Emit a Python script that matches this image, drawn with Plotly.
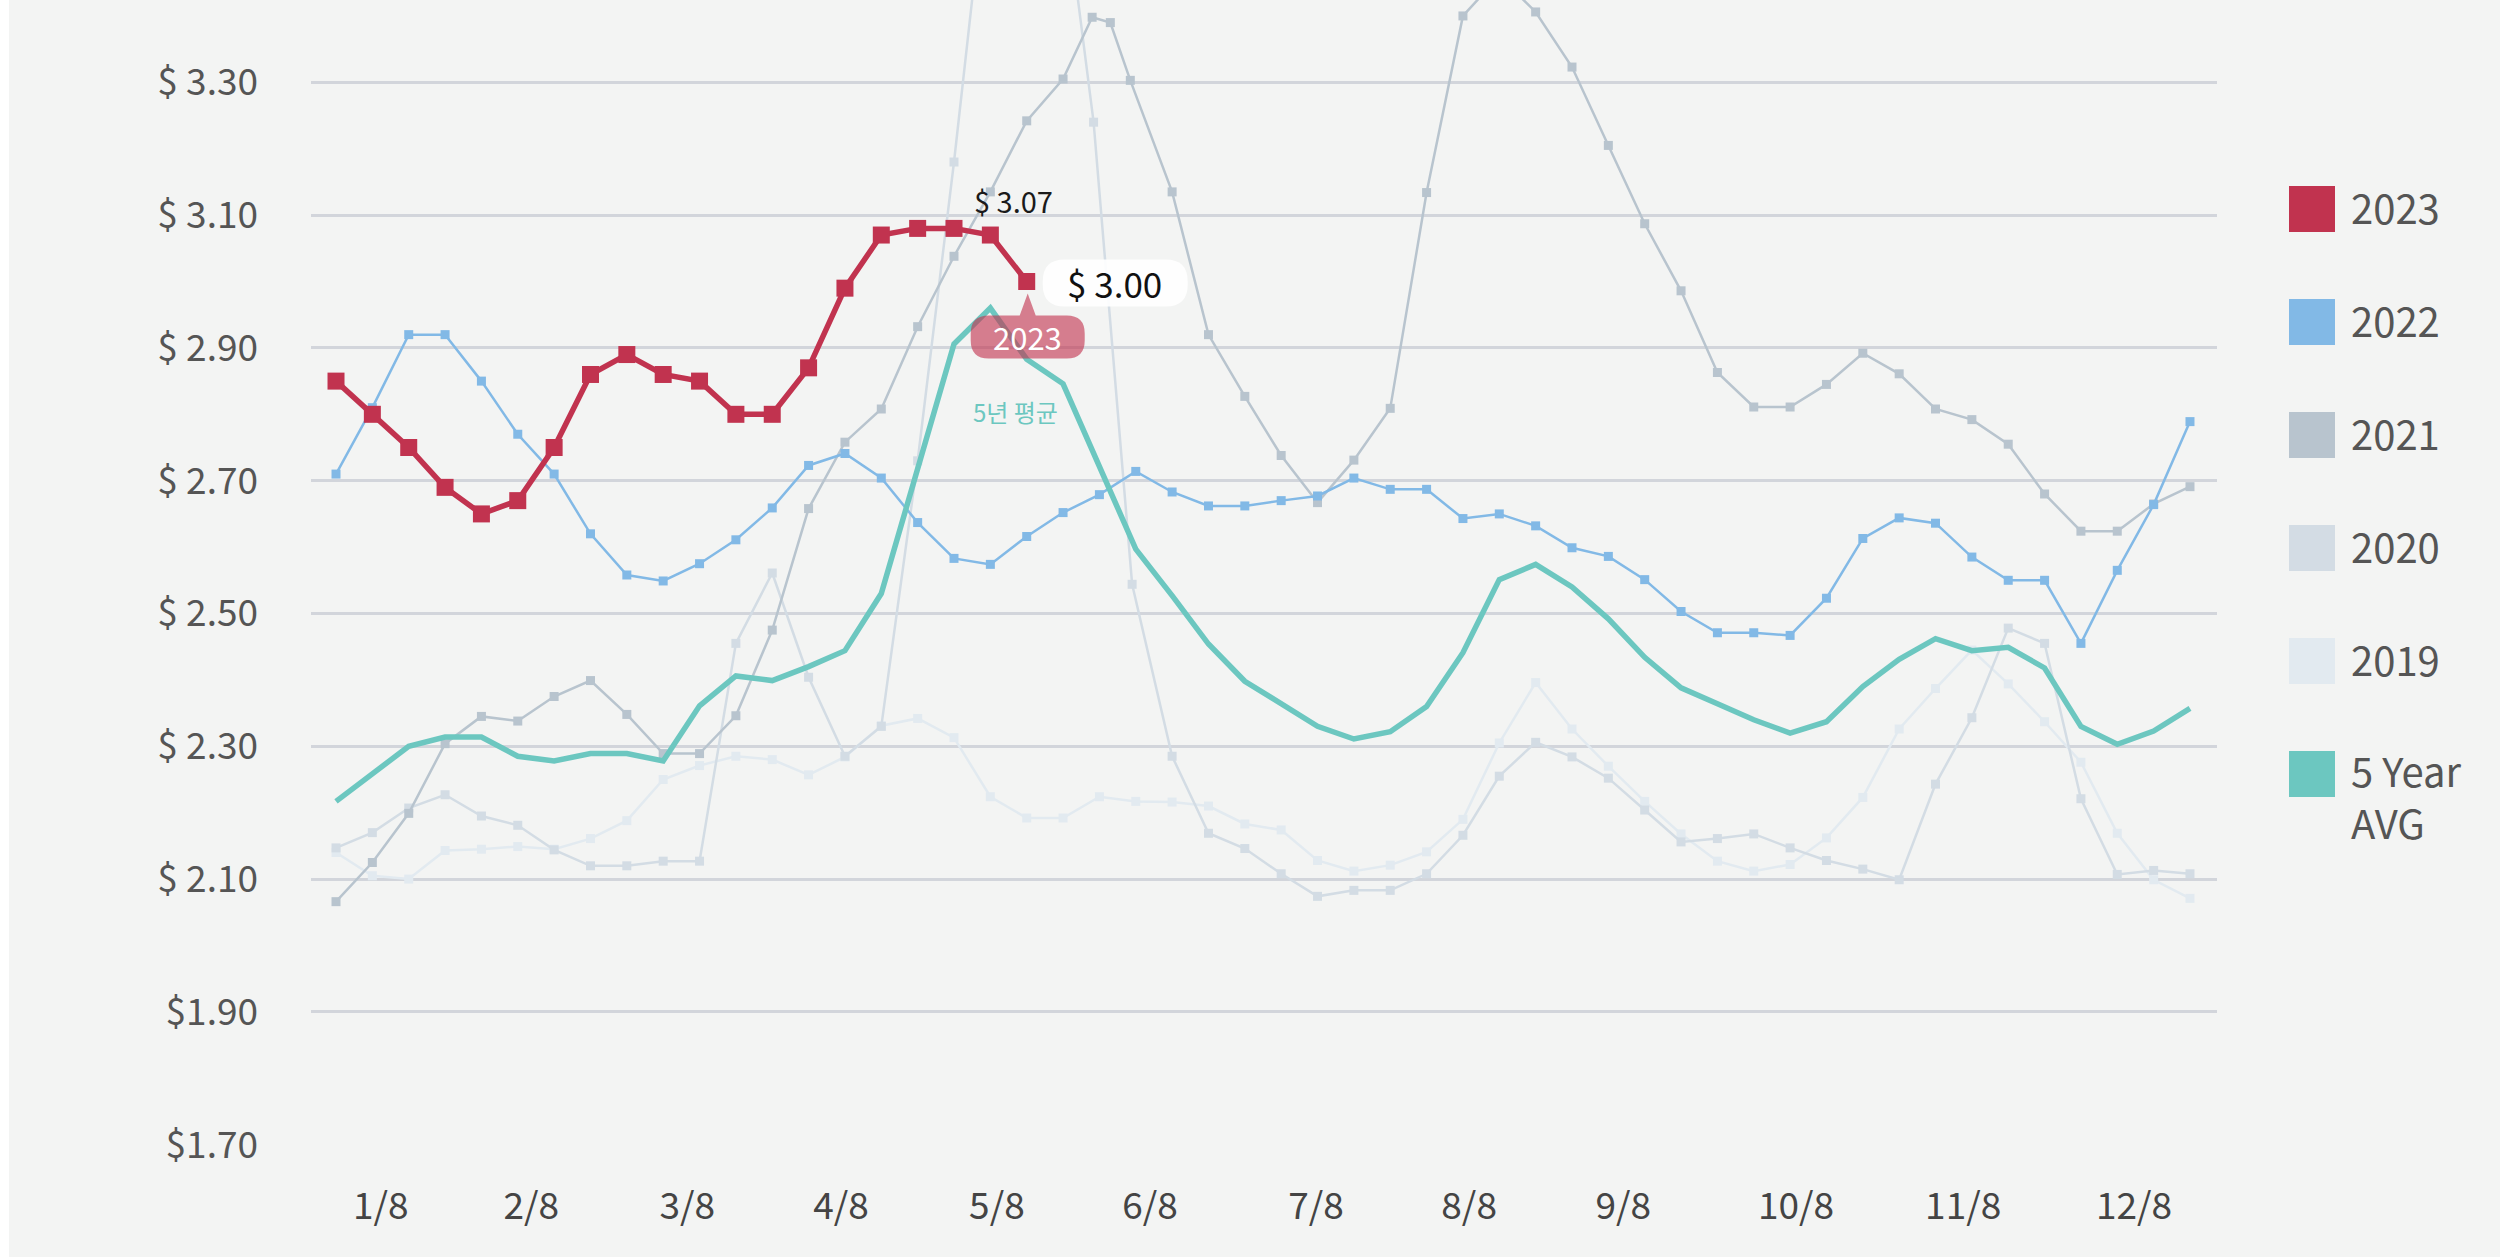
import plotly.graph_objects as go

# ---------------- data ----------------
weeks = list(range(52))
weeks_2023 = list(range(20))
weeks_2021 = list(range(21)) + [20.8, 21.3, 21.85] + list(range(23, 52))
weeks_2020 = list(range(21)) + [20.84, 21.9] + list(range(23, 52))

price_2023 = [2.85, 2.80, 2.75, 2.69, 2.65, 2.67, 2.75, 2.86, 2.89, 2.86,
              2.85, 2.80, 2.80, 2.87, 2.99, 3.07, 3.08, 3.08, 3.07, 3.00]

price_2022 = [2.71, 2.81, 2.92, 2.92, 2.85, 2.77, 2.71, 2.62, 2.558, 2.549,
              2.575, 2.611, 2.659, 2.723, 2.741, 2.704, 2.637, 2.583, 2.574, 2.616,
              2.652, 2.679, 2.714, 2.683, 2.662, 2.662, 2.67, 2.677, 2.704, 2.687,
              2.687, 2.643, 2.65, 2.632, 2.599, 2.586, 2.551, 2.503, 2.471, 2.471,
              2.467, 2.523, 2.613, 2.644, 2.636, 2.585, 2.55, 2.55, 2.455, 2.565,
              2.664, 2.789]

price_2021 = [2.066, 2.125, 2.199, 2.304, 2.345, 2.338, 2.375, 2.399, 2.348, 2.289,
              2.289, 2.346, 2.475, 2.658, 2.758, 2.808, 2.932, 3.038, 3.135, 3.242,
              3.305, 3.398, 3.39, 3.303, 3.135, 2.92, 2.827, 2.738, 2.667, 2.731,
              2.809, 3.134, 3.40, 3.46, 3.406, 3.323, 3.205, 3.087, 2.986, 2.863,
              2.811, 2.811, 2.845, 2.892, 2.861, 2.808, 2.792, 2.755, 2.68, 2.624,
              2.624, 2.665, 2.691]

price_2020 = [2.147, 2.17, 2.207, 2.227, 2.195, 2.181, 2.144, 2.12, 2.12, 2.127,
              2.127, 2.455, 2.561, 2.404, 2.285, 2.33, 2.73, 3.18, 3.67, 3.72,
              3.60, 3.24, 2.544, 2.285, 2.169, 2.146, 2.108, 2.074, 2.083, 2.083,
              2.108, 2.166, 2.255, 2.306, 2.284, 2.252, 2.204, 2.156, 2.161, 2.168,
              2.147, 2.128, 2.115, 2.099, 2.243, 2.343, 2.478, 2.455, 2.221, 2.107,
              2.113, 2.108]

price_2019 = [2.14, 2.105, 2.10, 2.143, 2.145, 2.149, 2.145, 2.161, 2.188, 2.25,
              2.271, 2.285, 2.28, 2.257, 2.284, 2.331, 2.342, 2.313, 2.224, 2.192,
              2.192, 2.224, 2.217, 2.216, 2.21, 2.183, 2.174, 2.128, 2.112, 2.121,
              2.141, 2.19, 2.305, 2.396, 2.326, 2.27, 2.217, 2.168, 2.127, 2.112,
              2.122, 2.162, 2.223, 2.326, 2.387, 2.445, 2.394, 2.337, 2.276, 2.169,
              2.099, 2.071]

avg_5yr = [2.217, 2.258, 2.30, 2.314, 2.314, 2.285, 2.278, 2.289, 2.289, 2.278,
           2.361, 2.406, 2.399, 2.42, 2.444, 2.53, 2.72, 2.906, 2.96, 2.883,
           2.846, 2.72, 2.597, 2.527, 2.454, 2.398, 2.365, 2.33, 2.311, 2.322,
           2.36, 2.441, 2.551, 2.574, 2.54, 2.492, 2.434, 2.388, 2.364, 2.34,
           2.32, 2.337, 2.39, 2.431, 2.462, 2.444, 2.449, 2.418, 2.33, 2.303,
           2.323, 2.357]

x_tick_labels = ["1/8", "2/8", "3/8", "4/8", "5/8", "6/8", "7/8", "8/8",
                 "9/8", "10/8", "11/8", "12/8"]
x_tick_pos = [1.23, 5.37, 9.66, 13.89, 18.18, 22.39, 26.96, 31.17,
              35.41, 40.16, 44.76, 49.46]
y_tick_vals = [1.70, 1.90, 2.10, 2.30, 2.50, 2.70, 2.90, 3.10, 3.30]
y_tick_text = ["$1.70", "$1.90", "$ 2.10", "$ 2.30", "$ 2.50", "$ 2.70",
               "$ 2.90", "$ 3.10", "$ 3.30"]

series_names = ["2023", "2022", "2021", "2020", "2019", "5 Year AVG"]
series_colors = ["#c1334f", "#82b9e6", "#b8c4ce", "#d3dce4", "#e2eaf0", "#6cc7c0"]
avg_label = "5년 평균"

# ---------------- layout geometry ----------------
W, H = 2500, 1257
L, R, T, B = 311, 283, 0, 112
PW, PH = W - L - R, H - T - B
BG = "#f3f4f3"
FONT = "Noto Sans CJK KR"


def xp(px):
    return (px - L) / PW


def yp(py):
    return (T + PH - py) / PH


fig = go.Figure()

thin = [(weeks, price_2019, 4), (weeks_2020, price_2020, 3),
        (weeks_2021, price_2021, 2), (weeks, price_2022, 1)]
for xs, ys, k in thin:
    fig.add_trace(go.Scatter(
        x=xs, y=ys, mode="lines+markers", name=series_names[k],
        line=dict(color=series_colors[k], width=2.5),
        marker=dict(symbol="square", size=9, color=series_colors[k]),
        hoverinfo="skip", showlegend=False))

fig.add_trace(go.Scatter(
    x=weeks, y=avg_5yr, mode="lines", name=series_names[5],
    line=dict(color=series_colors[5], width=5.5),
    hoverinfo="skip", showlegend=False))

fig.add_trace(go.Scatter(
    x=weeks_2023, y=price_2023, mode="lines+markers", name=series_names[0],
    line=dict(color=series_colors[0], width=5.5),
    marker=dict(symbol="square", size=17, color=series_colors[0]),
    hoverinfo="skip", showlegend=False))


def rrect(x0, x1, y0, y1, r):
    return (f"M {x0 + r},{y0} L {x1 - r},{y0} Q {x1},{y0} {x1},{y0 + r} "
            f"L {x1},{y1 - r} Q {x1},{y1} {x1 - r},{y1} L {x0 + r},{y1} "
            f"Q {x0},{y1} {x0},{y1 - r} L {x0},{y0 + r} Q {x0},{y0} {x0 + r},{y0} Z")


last_x, last_y = weeks_2023[-1], price_2023[-1]
prev_x, prev_y = weeks_2023[-2], price_2023[-2]

shapes = [
    # white strip on the left edge of the page
    dict(type="rect", xref="paper", yref="paper", x0=xp(0), x1=xp(9),
         y0=yp(H), y1=yp(0), fillcolor="white", line=dict(width=0), layer="above"),
    # current value pill
    dict(type="path", xref="x", yref="y", xsizemode="pixel", ysizemode="pixel",
         xanchor=last_x, yanchor=last_y, path=rrect(16, 161, -25, 22, 22),
         fillcolor="rgba(255,255,255,0.9)", line=dict(width=0), layer="above"),
    # series-name bubble with pointer
    dict(type="path", xref="x", yref="y", xsizemode="pixel", ysizemode="pixel",
         xanchor=last_x, yanchor=last_y,
         path=rrect(-56, 58, -77, -34, 18) + " M -7,-34 L 1,-12 L 9,-34 Z",
         fillcolor="rgba(193,51,79,0.62)", line=dict(width=0), layer="above"),
]

annotations = [
    dict(x=prev_x, y=prev_y, xref="x", yref="y", text=f"$ {prev_y:.2f}",
         showarrow=False, xshift=23, yshift=35,
         font=dict(family=FONT, size=29, color="#1a1a1a")),
    dict(x=last_x, y=last_y, xref="x", yref="y", text=f"$ {last_y:.2f}",
         showarrow=False, xshift=88, yshift=-1,
         font=dict(family=FONT, size=35, color="#111111")),
    dict(x=last_x, y=last_y, xref="x", yref="y", text=series_names[0],
         showarrow=False, xshift=1, yshift=-55,
         font=dict(family=FONT, size=31, color="white")),
    dict(x=weeks[18], y=avg_5yr[18], xref="x", yref="y", text=avg_label,
         showarrow=False, xshift=25, yshift=-103,
         font=dict(family=FONT, size=24, color=series_colors[5])),
]

# custom legend with square swatches
leg_x0, leg_sw, leg_y0, leg_dy = 2289, 46, 209, 113
for i, (nm, col) in enumerate(zip(series_names, series_colors)):
    cy = leg_y0 + i * leg_dy
    shapes.append(dict(type="rect", xref="paper", yref="paper",
                       x0=xp(leg_x0), x1=xp(leg_x0 + leg_sw),
                       y0=yp(cy + leg_sw / 2), y1=yp(cy - leg_sw / 2),
                       fillcolor=col, line=dict(width=0), layer="above"))
    parts = nm.rsplit(" ", 1) if " " in nm else [nm]
    text = "<br>".join(parts)
    ty = cy - 2 + (len(parts) - 1) * 24
    annotations.append(dict(
        x=xp(2349), y=yp(ty), xref="paper", yref="paper",
        text=text, showarrow=False, xanchor="left", yanchor="middle",
        align="left", font=dict(family=FONT, size=40, color="#555555")))

fig.update_layout(
    width=W, height=H,
    margin=dict(l=L, r=R, t=T, b=B, pad=0),
    paper_bgcolor=BG, plot_bgcolor=BG,
    showlegend=False,
    font=dict(family=FONT, color="#555555"),
    shapes=shapes, annotations=annotations,
    xaxis=dict(range=[-0.688, 51.743], showgrid=False, zeroline=False,
               showline=False, tickmode="array", tickvals=x_tick_pos,
               ticktext=x_tick_labels, ticks="", ticklabelstandoff=36,
               tickfont=dict(family=FONT, size=37, color="#444444"),
               fixedrange=True),
    yaxis=dict(range=[1.6995, 3.424], showgrid=True, gridcolor="#d2d5db",
               gridwidth=2.5, zeroline=False, showline=False,
               tickmode="array", tickvals=y_tick_vals, ticktext=y_tick_text,
               ticks="", ticklabelstandoff=52,
               tickfont=dict(family=FONT, size=37, color="#555555"),
               fixedrange=True),
)

fig.write_html(
    "out.html",
    config={"displayModeBar": False},
    post_script="document.body.style.margin='0px';"
                "document.body.style.overflow='hidden';",
)
